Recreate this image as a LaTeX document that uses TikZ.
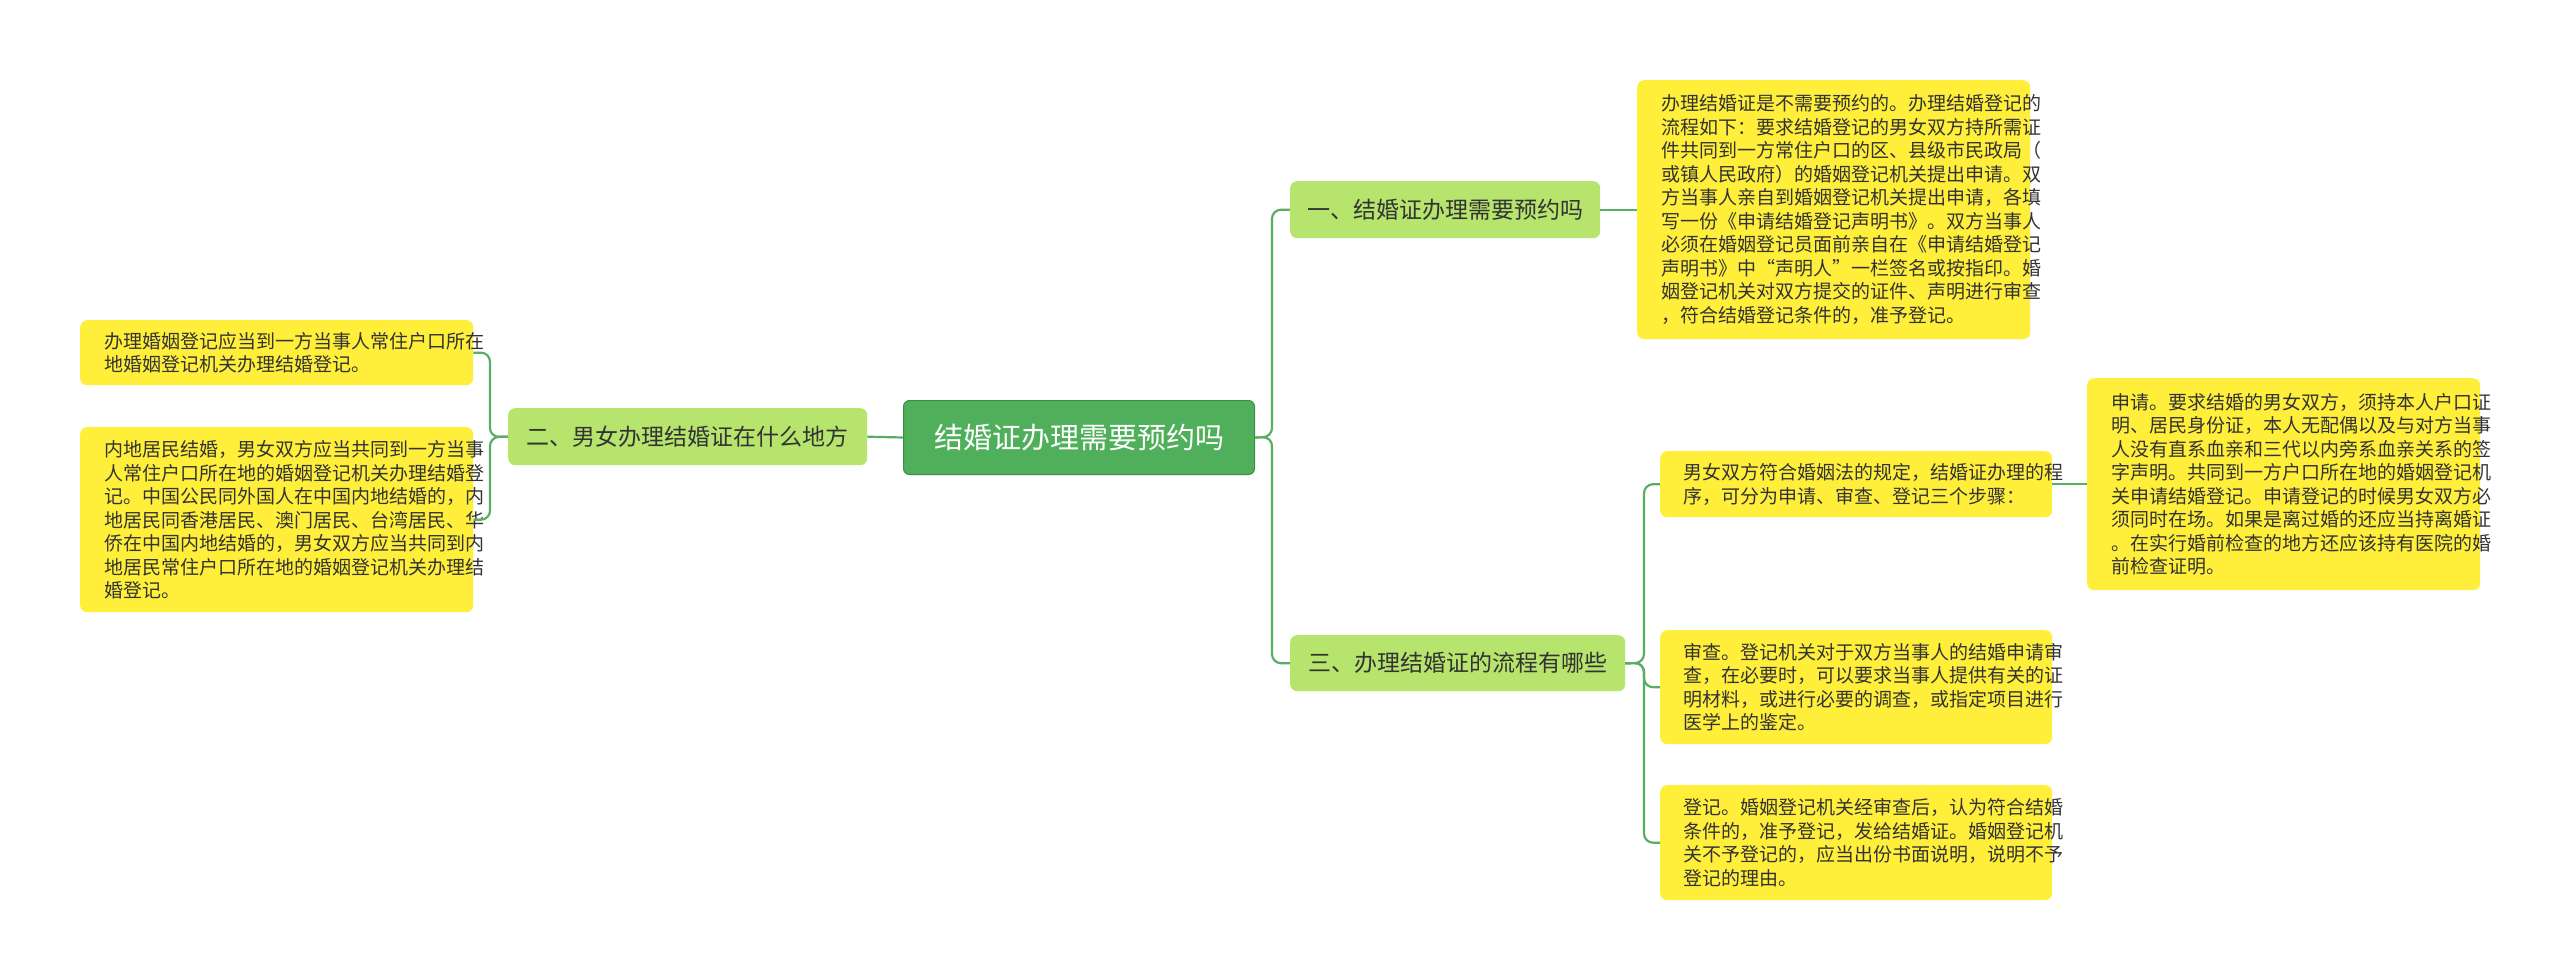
\documentclass[tikz,border=0pt]{standalone}
\usepackage{fontspec}
\setmainfont{Noto Sans CJK SC}
\begin{document}
\begin{tikzpicture}[x=1pt,y=-1pt,
  leaf/.style={fill=leafc,rounded corners=7pt,anchor=north west,inner sep=0pt,font=\fontsize{19}{23.5}\selectfont,text=txt,align=left},
  branch/.style={fill=brc,rounded corners=7pt,anchor=north west,inner sep=0pt,font=\fontsize{23}{28}\selectfont,text=txt},
  conn/.style={draw=lnc,line width=2.2pt,rounded corners=9pt}]
\definecolor{leafc}{HTML}{FFEF3B}
\definecolor{brc}{HTML}{B6E46C}
\definecolor{rootc}{HTML}{4FAF5B}
\definecolor{lnc}{HTML}{5AAE64}
\definecolor{txt}{HTML}{333333}
\useasboundingbox (0,0) rectangle (2560,980);
\fill[white] (0,0) rectangle (2560,980);
\node[fill=rootc,draw=rootc!80!black,line width=1pt,rounded corners=6pt,anchor=north west,minimum width=351pt,minimum height=74pt,inner sep=0pt,text=white,font=\fontsize{29}{34}\selectfont] (root) at (903,400) {结婚证办理需要预约吗};
\node[branch,minimum width=310pt,minimum height=57pt] (b1) at (1290,181) {一、结婚证办理需要预约吗};
\node[branch,minimum width=359pt,minimum height=57pt] (b2) at (508,408) {二、男女办理结婚证在什么地方};
\node[branch,minimum width=335pt,minimum height=56pt] (b3) at (1290,635) {三、办理结婚证的流程有哪些};
\node[leaf,minimum width=393pt,minimum height=259pt,text width=369pt] (l1) at (1637,80) {\hspace*{12pt}\parbox{369pt}{办理结婚证是不需要预约的。办理结婚登记的\\流程如下：要求结婚登记的男女双方持所需证\\件共同到一方常住户口的区、县级市民政局（\\或镇人民政府）的婚姻登记机关提出申请。双\\方当事人亲自到婚姻登记机关提出申请，各填\\写一份《申请结婚登记声明书》。双方当事人\\必须在婚姻登记员面前亲自在《申请结婚登记\\声明书》中“声明人”一栏签名或按指印。婚\\姻登记机关对双方提交的证件、声明进行审查\\，符合结婚登记条件的，准予登记。}};
\node[leaf,minimum width=393pt,minimum height=65pt,text width=369pt] (a1) at (80,320) {\hspace*{12pt}\parbox{369pt}{办理婚姻登记应当到一方当事人常住户口所在\\地婚姻登记机关办理结婚登记。}};
\node[leaf,minimum width=393pt,minimum height=185pt,text width=369pt] (a2) at (80,427) {\hspace*{12pt}\parbox{369pt}{内地居民结婚，男女双方应当共同到一方当事\\人常住户口所在地的婚姻登记机关办理结婚登\\记。中国公民同外国人在中国内地结婚的，内\\地居民同香港居民、澳门居民、台湾居民、华\\侨在中国内地结婚的，男女双方应当共同到内\\地居民常住户口所在地的婚姻登记机关办理结\\婚登记。}};
\node[leaf,minimum width=392pt,minimum height=66pt,text width=369pt] (c1) at (1660,451) {\hspace*{12pt}\parbox{369pt}{男女双方符合婚姻法的规定，结婚证办理的程\\序，可分为申请、审查、登记三个步骤：}};
\node[leaf,minimum width=392pt,minimum height=114pt,text width=369pt] (c2) at (1660,630) {\hspace*{12pt}\parbox{369pt}{审查。登记机关对于双方当事人的结婚申请审\\查，在必要时，可以要求当事人提供有关的证\\明材料，或进行必要的调查，或指定项目进行\\医学上的鉴定。}};
\node[leaf,minimum width=392pt,minimum height=115pt,text width=369pt] (c3) at (1660,785) {\hspace*{12pt}\parbox{369pt}{登记。婚姻登记机关经审查后，认为符合结婚\\条件的，准予登记，发给结婚证。婚姻登记机\\关不予登记的，应当出份书面说明，说明不予\\登记的理由。}};
\node[leaf,minimum width=393pt,minimum height=212pt,text width=369pt] (d1) at (2087,378) {\hspace*{12pt}\parbox{369pt}{申请。要求结婚的男女双方，须持本人户口证\\明、居民身份证，本人无配偶以及与对方当事\\人没有直系血亲和三代以内旁系血亲关系的签\\字声明。共同到一方户口所在地的婚姻登记机\\关申请结婚登记。申请登记的时候男女双方必\\须同时在场。如果是离过婚的还应当持离婚证\\。在实行婚前检查的地方还应该持有医院的婚\\前检查证明。}};
\coordinate (r1) at (1272,437);
\draw[conn] (root.east) -- (r1) |- (b1.west);
\draw[conn] (root.east) -- (r1) |- (b3.west);
\draw[conn] (root.west) -- (b2.east);
\coordinate (e2) at (490,437);
\draw[conn] (b2.west) -- (e2) |- (a1.east);
\draw[conn] (b2.west) -- (e2) |- (a2.east);
\draw[conn] (b1.east) -- (l1.west |- b1.east);
\coordinate (e3) at (1644,663);
\draw[conn] (b3.east) -- (e3) |- (c1.east -| c1.west);
\draw[conn] (b3.east) -- (e3) |- (c2.west);
\draw[conn] (b3.east) -- (e3) |- (c3.west);
\draw[conn] (c1.east) -- (d1.west |- c1.east);
\end{tikzpicture}
\end{document}
